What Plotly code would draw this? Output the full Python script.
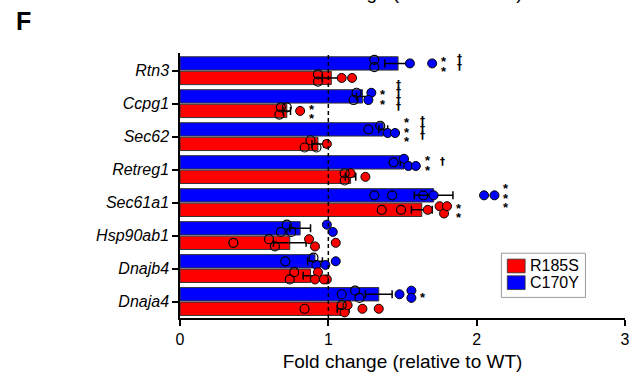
import plotly.graph_objects as go

# ---------------- data ----------------
genes = ["Rtn3", "Ccpg1", "Sec62", "Retreg1", "Sec61a1", "Hsp90ab1", "Dnajb4", "Dnaja4"]

c170y_mean = [1.47, 1.23, 1.37, 1.51, 1.71, 0.81, 0.91, 1.34]
c170y_err = [0.09, 0.04, 0.03, 0.025, 0.13, 0.07, 0.05, 0.09]
r185s_mean = [1.02, 0.72, 0.93, 1.15, 1.63, 0.74, 0.88, 1.10]
r185s_err = [0.06, 0.025, 0.04, 0.035, 0.07, 0.11, 0.05, 0.04]

# individual replicates (open = one batch, filled = other batch)
c170y_open = [[1.31, 1.31], [1.19, 1.17], [1.27, 1.35], [1.44], [1.31, 1.43, 1.64],
              [0.72, 0.68, 0.75], [0.71, 0.90], [1.09, 1.18, 1.21]]
c170y_filled = [[1.55, 1.70], [1.29, 1.27], [1.40, 1.45], [1.51, 1.54, 1.59], [1.71, 2.05, 2.12],
                [0.99, 1.03], [0.92, 0.98, 1.05], [1.48, 1.56, 1.56]]
r185s_open = [[0.93, 0.93], [0.68, 0.67, 0.72], [0.88, 0.84, 0.92], [1.11, 1.11], [1.36, 1.49],
              [0.36, 0.60, 0.64], [0.77, 0.74], [0.84, 1.09]]
r185s_filled = [[1.09, 1.16], [0.81], [0.99], [1.15, 1.25], [1.67, 1.75, 1.78, 1.80],
                [0.87, 0.91, 1.05], [0.93, 0.91, 0.99, 0.97], [1.11, 1.13, 1.23, 1.34]]

# significance marks (count of stacked symbols)
stars_c170y = [2, 2, 3, 2, 3, 0, 0, 1]
stars_r185s = [0, 2, 0, 0, 2, 0, 0, 0]
daggers_c170y = [2, 4, 3, 1, 0, 0, 0, 0]

x_ticks = [0, 1, 2, 3]
legend_labels = ["R185S", "C170Y"]

BLUE = "#0000FF"
RED = "#FF0000"
FONT = "Liberation Sans, Arial, sans-serif"

# ---------------- layout geometry ----------------
W, H = 642, 381
ML, MR, MT, MB = 180, 12, 53, 58
PW, PH = W - ML - MR, H - MT - MB
ROW_OFF = 0.22


def px_to_paper_x(px):
    return (px - ML) / PW


def px_to_paper_y(py):
    return (H - MB - py) / PH


fig = go.Figure()
ypos = list(range(len(genes)))

fig.add_bar(y=ypos, x=c170y_mean, orientation="h", name="C170Y", showlegend=False,
            marker=dict(color=BLUE, line=dict(color="#333333", width=1)),
            error_x=dict(type="data", array=c170y_err, color="black", thickness=1.5, width=4))
fig.add_bar(y=ypos, x=r185s_mean, orientation="h", name="R185S", showlegend=False,
            marker=dict(color=RED, line=dict(color="#333333", width=1)),
            error_x=dict(type="data", array=r185s_err, color="black", thickness=1.5, width=4))


def jittered(open_vals, filled_vals, row_center):
    allv = [(v, "o") for v in open_vals] + [(v, "f") for v in filled_vals]
    out = {"o": ([], []), "f": ([], [])}
    for i, (v, kind) in enumerate(allv):
        near = [j for j, (w, _) in enumerate(allv) if abs(w - v) < 0.06 and j != i]
        if near:
            order = sum(1 for j in near if j < i)
            dy = -0.11 if order % 2 == 0 else 0.11
        else:
            dy = 0.0
        out[kind][0].append(v)
        out[kind][1].append(row_center + dy)
    return out


def add_points(open_list, filled_list, offset, color):
    ox, oy, fx, fy = [], [], [], []
    for i in range(len(genes)):
        res = jittered(open_list[i], filled_list[i], i + offset)
        ox += res["o"][0]; oy += res["o"][1]
        fx += res["f"][0]; fy += res["f"][1]
    fig.add_scatter(x=fx, y=fy, mode="markers", showlegend=False, hoverinfo="skip",
                    marker=dict(symbol="circle", size=9, color=color, line=dict(color="black", width=1)))
    fig.add_scatter(x=ox, y=oy, mode="markers", showlegend=False, hoverinfo="skip",
                    marker=dict(symbol="circle-open", size=9, color="black", line=dict(width=1.2)))


add_points(c170y_open, c170y_filled, -ROW_OFF, BLUE)
add_points(r185s_open, r185s_filled, ROW_OFF, RED)

annotations = []


def add_marks(counts, opens, filleds, offset, symbol, xshift, spacing, size, ycorr, family):
    for i, n in enumerate(counts):
        if n == 0:
            continue
        xmax = max(opens[i] + filleds[i])
        for k in range(n):
            annotations.append(dict(
                x=xmax, y=i + offset, xref="x", yref="y", text=symbol, showarrow=False,
                xanchor="center", yanchor="middle", xshift=xshift, borderpad=0,
                yshift=((n - 1) / 2 - k) * spacing + ycorr,
                font=dict(family=family, size=size, color="black")))


add_marks(stars_c170y, c170y_open, c170y_filled, -ROW_OFF, "<b>*</b>", 12, 9.5, 13, -3, FONT)
add_marks(stars_r185s, r185s_open, r185s_filled, ROW_OFF, "<b>*</b>", 12, 9.5, 13, -3, FONT)
add_marks(daggers_c170y, c170y_open, c170y_filled, -ROW_OFF, "<b>†</b>", 27, 7.5, 10, 1, "DejaVu Sans")

# panel label
annotations.append(dict(x=px_to_paper_x(22), y=px_to_paper_y(20), xref="paper", yref="paper",
                        text="<b>F</b>", showarrow=False, xanchor="center", yanchor="middle",
                        font=dict(family=FONT, size=25, color="black")))
# cut-off title from panel above
annotations.append(dict(x=0.5, y=1, xref="paper", yref="paper", text="Fold change (relative to WT)",
                        showarrow=False, xanchor="center", yanchor="bottom", yshift=48,
                        font=dict(family=FONT, size=19, color="black")))

# manual legend
shapes = [
    dict(type="line", xref="x", yref="paper", x0=1, x1=1, y0=0, y1=1,
         line=dict(color="black", width=1.5, dash="4px,3px"), layer="above"),
    dict(type="rect", xref="paper", yref="paper", x0=px_to_paper_x(505), x1=px_to_paper_x(590),
         y0=px_to_paper_y(302), y1=px_to_paper_y(257), line=dict(color="#999999", width=1),
         fillcolor="white", layer="above"),
]
legend_colors = [RED, BLUE]
for k, (lab, col) in enumerate(zip(legend_labels, legend_colors)):
    top = 263 + k * 17
    shapes.append(dict(type="rect", xref="paper", yref="paper",
                       x0=px_to_paper_x(511), x1=px_to_paper_x(529),
                       y0=px_to_paper_y(top + 14), y1=px_to_paper_y(top),
                       fillcolor=col, line=dict(color="#333333", width=0.8), layer="above"))
    annotations.append(dict(x=px_to_paper_x(532), y=px_to_paper_y(top + 7), xref="paper", yref="paper",
                            text=lab, showarrow=False, xanchor="left", yanchor="middle",
                            font=dict(family=FONT, size=16, color="black")))

fig.update_layout(
    width=W, height=H, margin=dict(l=ML, r=MR, t=MT, b=MB),
    paper_bgcolor="white", plot_bgcolor="white",
    barmode="group", bargap=0.12, bargroupgap=0.08,
    font=dict(family=FONT, color="black"),
    annotations=annotations, shapes=shapes, showlegend=False,
    xaxis=dict(range=[0, 3], tickvals=x_ticks, ticktext=[str(t) for t in x_ticks],
               ticks="outside", ticklen=6, tickwidth=1.5, tickcolor="black",
               showline=True, linecolor="black", linewidth=1.5, showgrid=False, zeroline=False,
               tickfont=dict(family=FONT, size=16),
               title=dict(text="Fold change (relative to WT)", font=dict(family=FONT, size=19), standoff=8)),
    yaxis=dict(range=[7.5, -0.536], tickvals=ypos, ticktext=["<i>%s</i>" % g for g in genes],
               ticks="outside", ticklen=6, tickwidth=1.5, tickcolor="black",
               showline=True, linecolor="black", linewidth=1.5, showgrid=False, zeroline=False,
               tickfont=dict(family=FONT, size=16)),
)

fig.write_html("out.html", config={"displayModeBar": False},
               post_script="document.body.style.margin='0';document.body.style.overflow='hidden';")
